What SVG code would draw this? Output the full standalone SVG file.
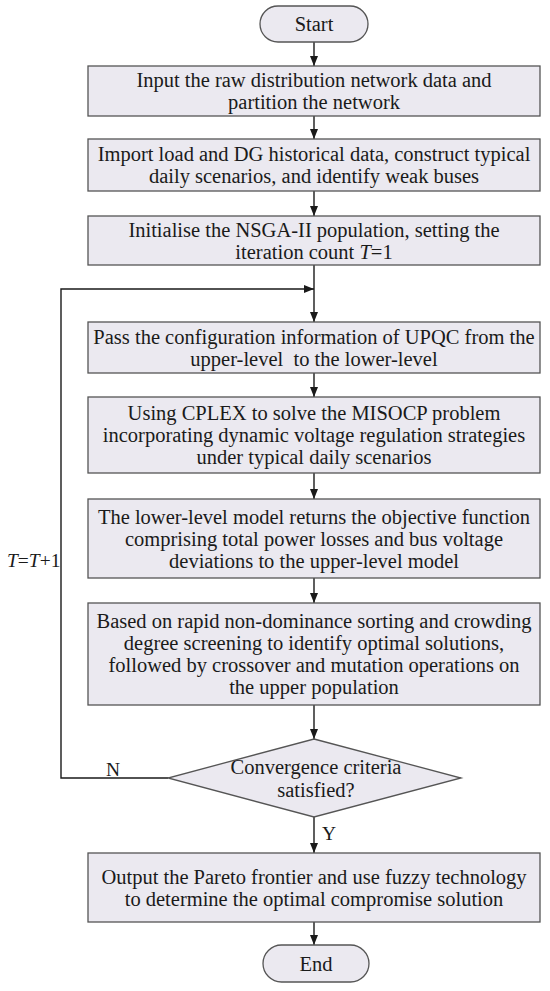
<svg xmlns="http://www.w3.org/2000/svg" width="550" height="991" viewBox="0 0 550 991">
<defs>
<marker id="ah" markerUnits="userSpaceOnUse" markerWidth="10" markerHeight="8" refX="10" refY="4" orient="auto">
<path d="M0,0 L10,4 L0,8 z" fill="#1a1a1a"/>
</marker>
<style>
.box{fill:#ebe9f0;stroke:#555;stroke-width:1.3}
.t{font-family:"Liberation Serif","Times New Roman",serif;font-size:20.5px;fill:#1a1a1a;text-anchor:middle}
.lbl{font-family:"Liberation Serif","Times New Roman",serif;font-size:19.5px;fill:#1a1a1a}
.c{fill:none;stroke:#1a1a1a;stroke-width:1.4}
</style>
</defs>
<rect width="550" height="991" fill="#fff"/>
<g id="connectors">
<line class="c" x1="314" y1="42" x2="314" y2="66" marker-end="url(#ah)"/>
<line class="c" x1="314" y1="116" x2="314" y2="139" marker-end="url(#ah)"/>
<line class="c" x1="314" y1="191" x2="314" y2="216" marker-end="url(#ah)"/>
<line class="c" x1="314" y1="265" x2="314" y2="322" marker-end="url(#ah)"/>
<line class="c" x1="314" y1="373" x2="314" y2="397" marker-end="url(#ah)"/>
<line class="c" x1="314" y1="473" x2="314" y2="499" marker-end="url(#ah)"/>
<line class="c" x1="314" y1="578" x2="314" y2="603" marker-end="url(#ah)"/>
<line class="c" x1="314" y1="705" x2="314" y2="739" marker-end="url(#ah)"/>
<line class="c" x1="314" y1="817" x2="314" y2="853" marker-end="url(#ah)"/>
<line class="c" x1="314" y1="922" x2="314" y2="945" marker-end="url(#ah)"/>
<polyline class="c" points="168,778 61,778 61,289 314,289" marker-end="url(#ah)"/>
<text class="lbl" x="7" y="567"><tspan font-style="italic">T</tspan>=<tspan font-style="italic">T</tspan>+1</text>
<text class="lbl" x="106" y="776">N</text>
<text class="lbl" x="322" y="840">Y</text>
</g>
<g id="start">
<rect class="box" x="260" y="6" width="108" height="36" rx="18"/>
<text class="t" x="314" y="31">Start</text>
</g>
<g id="box1">
<rect class="box" x="88" y="66" width="452" height="50"/>
<text class="t" x="314" y="87">Input the raw distribution network data and</text>
<text class="t" x="314" y="109">partition the network</text>
</g>
<g id="box2">
<rect class="box" x="88" y="139" width="452" height="52"/>
<text class="t" x="314" y="161">Import load and DG historical data, construct typical</text>
<text class="t" x="314" y="183">daily scenarios, and identify weak buses</text>
</g>
<g id="box3">
<rect class="box" x="88" y="216" width="452" height="49"/>
<text class="t" x="314" y="236.5">Initialise the NSGA-II population, setting the</text>
<text class="t" x="314" y="258.5">iteration count <tspan font-style="italic">T</tspan>=1</text>
</g>
<g id="box4">
<rect class="box" x="88" y="322" width="452" height="51"/>
<text class="t" x="314" y="343.5">Pass the configuration information of UPQC from the</text>
<text class="t" x="314" y="365.5" xml:space="preserve">upper-level  to the lower-level</text>
</g>
<g id="box5">
<rect class="box" x="88" y="397" width="452" height="76"/>
<text class="t" x="314" y="420">Using CPLEX to solve the MISOCP problem</text>
<text class="t" x="314" y="442">incorporating dynamic voltage regulation strategies</text>
<text class="t" x="314" y="464">under typical daily scenarios</text>
</g>
<g id="box6">
<rect class="box" x="88" y="499" width="452" height="79"/>
<text class="t" x="314" y="523.5">The lower-level model returns the objective function</text>
<text class="t" x="314" y="545.5">comprising total power losses and bus voltage</text>
<text class="t" x="314" y="567.5">deviations to the upper-level model</text>
</g>
<g id="box7">
<rect class="box" x="88" y="603" width="452" height="102"/>
<text class="t" x="314" y="628">Based on rapid non-dominance sorting and crowding</text>
<text class="t" x="314" y="650">degree screening to identify optimal solutions,</text>
<text class="t" x="314" y="672">followed by crossover and mutation operations on</text>
<text class="t" x="314" y="694">the upper population</text>
</g>
<g id="decision">
<polygon class="box" points="314,739 461,778 314,817 168,778"/>
<text class="t" x="316" y="774">Convergence criteria</text>
<text class="t" x="316" y="797">satisfied?</text>
</g>
<g id="box8">
<rect class="box" x="88" y="853" width="452" height="69"/>
<text class="t" x="314" y="883.5">Output the Pareto frontier and use fuzzy technology</text>
<text class="t" x="314" y="905.5">to determine the optimal compromise solution</text>
</g>
<g id="end">
<rect class="box" x="263" y="945" width="106" height="37" rx="18.5"/>
<text class="t" x="316" y="970.5">End</text>
</g>
</svg>
